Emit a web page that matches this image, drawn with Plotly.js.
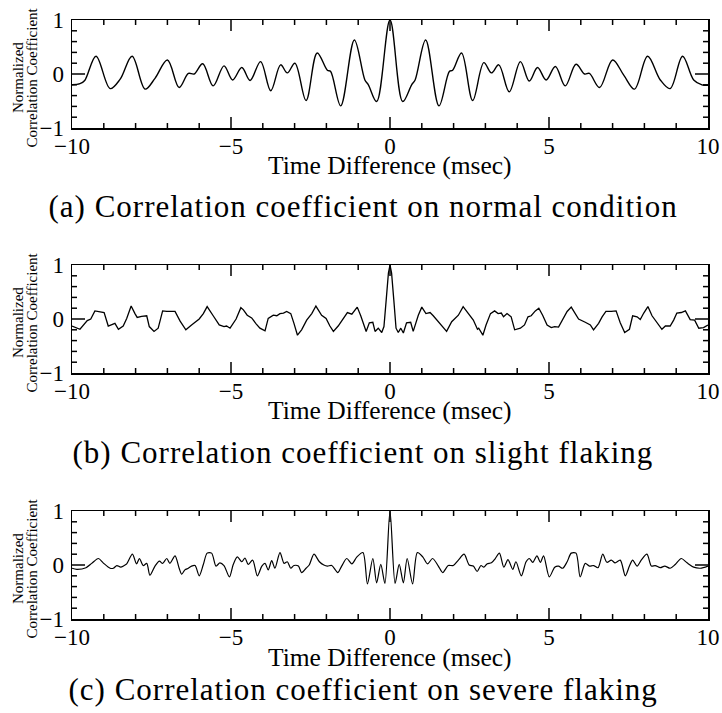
<!DOCTYPE html>
<html>
<head>
<meta charset="utf-8">
<script src="https://cdn.plot.ly/plotly-3.0.1.min.js"></script>
<style>html,body{margin:0;padding:0;background:#fff;}#chart{width:722px;height:713px;}</style>
</head>
<body>
<div id="chart"></div>
<script>
// (a) normal condition
const xNormal = [-10, -9.75, -9.6, -9.245, -8.80, -8.49, -8.11, -7.70, -7.39, -7.00, -6.63, -6.34, -6.16, -5.89, -5.56, -5.22, -4.95, -4.66, -4.40, -4.07, -3.75, -3.44, -3.23, -2.99, -2.64, -2.29, -1.97, -1.87, -1.55, -1.12, -0.79, -0.68, -0.42, 0, 0.40, 0.68, 0.79, 1.12, 1.54, 1.87, 1.97, 2.25, 2.60, 2.95, 3.19, 3.42, 3.75, 4.10, 4.38, 4.64, 4.91, 5.20, 5.51, 5.85, 6.12, 6.27, 6.59, 7.00, 7.35, 7.69, 8.10, 8.50, 8.81, 9.20, 9.55, 9.81, 10];
const yNormal = [-0.20, -0.18, -0.12, 0.33, -0.27, -0.10, 0.33, -0.28, -0.08, 0.26, -0.25, 0.01, 0.00, 0.19, -0.22, 0.15, -0.11, 0.12, -0.12, 0.23, -0.31, 0.17, 0.02, 0.20, -0.49, 0.39, 0.07, 0.05, -0.59, 0.63, -0.11, -0.20, -0.51, 1.00, -0.51, -0.20, -0.11, 0.63, -0.59, 0.05, 0.07, 0.39, -0.49, 0.21, 0.02, 0.17, -0.33, 0.23, -0.13, 0.12, -0.11, 0.14, -0.22, 0.18, 0.00, 0.01, -0.25, 0.26, -0.02, -0.28, 0.33, -0.11, -0.27, 0.33, -0.11, -0.20, -0.21];

// (b) slight flaking
const xSlight = [-10, -9.75, -9.52, -9.41, -9.28, -9.12, -8.99, -8.86, -8.75, -8.65, -8.54, -8.39, -8.28, -8.14, -8.02, -7.95, -7.81, -7.65, -7.57, -7.42, -7.29, -7.15, -7.02, -6.86, -6.76, -6.60, -6.42, -6.24, -6.00, -5.87, -5.75, -5.56, -5.37, -5.22, -5.14, -5.03, -4.84, -4.69, -4.61, -4.49, -4.35, -4.21, -4.09, -3.93, -3.83, -3.67, -3.56, -3.46, -3.35, -3.25, -3.12, -3.02, -2.91, -2.78, -2.62, -2.46, -2.33, -2.15, -2.01, -1.89, -1.78, -1.63, -1.49, -1.34, -1.20, -1.03, -0.92, -0.75, -0.65, -0.54, -0.47, -0.37, -0.26, -0.19, -0.12, -0.05, 0, 0.05, 0.12, 0.19, 0.26, 0.34, 0.42, 0.52, 0.65, 0.73, 0.89, 1.00, 1.13, 1.26, 1.36, 1.52, 1.63, 1.78, 1.94, 2.04, 2.15, 2.30, 2.46, 2.62, 2.75, 2.79, 2.92, 3.02, 3.16, 3.29, 3.40, 3.50, 3.57, 3.68, 3.81, 3.92, 4.10, 4.23, 4.34, 4.44, 4.57, 4.68, 4.80, 4.94, 5.07, 5.18, 5.30, 5.46, 5.57, 5.70, 5.93, 6.14, 6.30, 6.40, 6.56, 6.67, 6.79, 6.96, 7.11, 7.24, 7.38, 7.53, 7.63, 7.77, 7.87, 7.98, 8.11, 8.24, 8.40, 8.55, 8.66, 8.81, 8.92, 9.02, 9.16, 9.29, 9.44, 9.58, 9.71, 9.86, 10];
const ySlight = [-0.13, -0.19, -0.03, 0.00, 0.15, 0.13, 0.12, -0.13, -0.10, -0.08, -0.19, -0.13, 0.01, 0.24, 0.10, 0.03, 0.05, 0.06, -0.14, -0.23, -0.17, 0.15, 0.14, 0.14, 0.14, -0.04, -0.20, -0.11, 0.00, 0.10, 0.23, 0.06, -0.11, -0.14, -0.13, -0.17, 0.00, 0.21, 0.17, 0.07, 0.02, -0.09, -0.17, -0.22, 0.01, 0.07, 0.06, 0.10, 0.11, 0.14, 0.10, -0.08, -0.30, -0.20, -0.02, 0.10, 0.24, 0.07, 0.01, -0.13, -0.23, -0.13, -0.02, 0.12, 0.09, 0.22, 0.06, -0.23, -0.07, -0.06, -0.23, -0.17, -0.25, -0.14, 0.35, 0.85, 1.00, 0.85, 0.35, -0.17, -0.25, -0.17, -0.26, -0.07, -0.06, -0.23, 0.07, 0.22, 0.10, 0.12, 0.06, -0.05, -0.13, -0.23, -0.05, 0.00, 0.07, 0.23, 0.11, -0.02, -0.19, -0.17, -0.30, -0.11, 0.10, 0.15, 0.10, 0.11, 0.04, 0.10, 0.04, -0.20, -0.17, -0.11, 0.04, 0.06, 0.15, 0.20, 0.07, -0.11, -0.16, -0.14, -0.15, 0.04, 0.14, 0.22, 0.00, -0.06, -0.11, -0.20, -0.08, 0.04, 0.14, 0.14, 0.15, -0.07, -0.25, -0.19, 0.06, 0.04, -0.01, 0.11, 0.23, 0.06, -0.06, -0.19, -0.13, -0.13, -0.02, 0.11, 0.12, 0.15, -0.01, -0.02, -0.17, -0.16, -0.11];

// (c) severe flaking
const xSevere = [-10, -9.85, -9.56, -9.38, -9.17, -9.02, -8.80, -8.70, -8.59, -8.47, -8.36, -8.28, -8.10, -7.97, -7.88, -7.76, -7.65, -7.55, -7.39, -7.25, -7.15, -7.02, -6.92, -6.76, -6.63, -6.55, -6.45, -6.34, -6.24, -6.13, -6.00, -5.87, -5.75, -5.61, -5.47, -5.35, -5.22, -5.05, -4.93, -4.80, -4.66, -4.56, -4.46, -4.32, -4.17, -4.03, -3.93, -3.83, -3.72, -3.62, -3.46, -3.33, -3.23, -3.12, -3.02, -2.88, -2.78, -2.64, -2.54, -2.39, -2.22, -2.08, -1.97, -1.83, -1.64, -1.52, -1.36, -1.20, -1.04, -0.85, -0.71, -0.54, -0.42, -0.29, -0.16, 0, 0.16, 0.29, 0.42, 0.54, 0.71, 0.86, 1.03, 1.18, 1.34, 1.52, 1.66, 1.83, 1.99, 2.15, 2.33, 2.49, 2.62, 2.74, 2.86, 2.95, 3.05, 3.19, 3.31, 3.44, 3.58, 3.71, 3.86, 3.96, 4.13, 4.28, 4.38, 4.49, 4.62, 4.73, 4.83, 5.01, 5.18, 5.30, 5.43, 5.57, 5.70, 5.85, 5.98, 6.14, 6.27, 6.40, 6.54, 6.69, 6.82, 6.96, 7.08, 7.24, 7.40, 7.53, 7.63, 7.77, 7.90, 8.08, 8.22, 8.34, 8.50, 8.64, 8.81, 8.97, 9.16, 9.34, 9.55, 9.76, 10];
const ySevere = [-0.06, -0.08, -0.05, 0.03, 0.12, 0.04, -0.06, -0.06, -0.01, -0.04, -0.01, 0.02, 0.20, 0.02, 0.12, -0.01, 0.03, -0.19, -0.02, 0.07, 0.03, 0.12, 0.03, 0.17, -0.06, -0.17, -0.09, -0.06, -0.02, -0.01, -0.20, 0.01, 0.22, 0.22, -0.02, 0.04, -0.01, -0.22, 0.01, 0.15, 0.06, 0.13, 0.01, 0.09, -0.20, -0.02, 0.03, -0.09, 0.08, -0.06, 0.23, 0.03, 0.06, -0.06, -0.01, -0.02, -0.14, -0.06, 0.00, 0.20, 0.06, 0.00, -0.02, -0.01, -0.14, -0.02, 0.12, 0.02, 0.15, 0.23, -0.35, 0.12, -0.33, 0.01, -0.34, 1.00, -0.34, 0.01, -0.33, 0.12, -0.35, 0.23, 0.15, 0.02, 0.12, -0.02, -0.14, -0.01, -0.01, 0.09, 0.20, 0.00, -0.02, -0.12, -0.01, -0.04, 0.02, 0.04, 0.12, 0.22, -0.04, 0.10, -0.08, 0.06, -0.20, 0.06, 0.12, 0.05, 0.17, 0.05, 0.17, -0.22, -0.04, -0.02, -0.06, 0.06, 0.22, 0.22, -0.22, 0.03, -0.02, -0.01, -0.05, 0.20, 0.05, 0.09, 0.04, 0.09, -0.20, -0.02, 0.09, -0.02, 0.09, 0.20, -0.02, -0.01, -0.05, -0.02, -0.06, 0.01, 0.12, 0.04, -0.04, -0.06, -0.02];

// tick positions
const xMajorTicks = [-5, 0, 5];
const xMinorTicks = [-9, -8, -7, -6, -4, -3, -2, -1, 1, 2, 3, 4, 6, 7, 8, 9];
const yMajorTicks = [0];
const yMinorTicks = [-0.8, -0.6, -0.4, -0.2, 0.2, 0.4, 0.6, 0.8];

const xTitle = 'Time Difference (msec)';
const yTitleLine1 = 'Normalized';
const yTitleLine2 = 'Correlation Coefficient';
const captions = [
  '(a) Correlation coefficient on normal condition',
  '(b) Correlation coefficient on slight flaking',
  '(c) Correlation coefficient on severe flaking'
];

const W = 722, H = 713;
const px = v => v / W;
const py = v => 1 - v / H;
const left = 72, right = 708;
const panels = [
  {top: 20, bottom: 128, titleY: 166, capY: 207},
  {top: 265, bottom: 373, titleY: 410, capY: 452},
  {top: 511, bottom: 619, titleY: 657, capY: 689}
];

const serif = 'Liberation Serif, Times New Roman, serif';
const traces = [
  {x: xNormal, y: yNormal, xaxis: 'x', yaxis: 'y', mode: 'lines', hoverinfo: 'skip', showlegend: false,
   line: {color: '#000', width: 1.4, shape: 'spline', smoothing: 1}},
  {x: xSlight, y: ySlight, xaxis: 'x2', yaxis: 'y2', mode: 'lines', hoverinfo: 'skip', showlegend: false,
   line: {color: '#000', width: 1.3}},
  {x: xSevere, y: ySevere, xaxis: 'x3', yaxis: 'y3', mode: 'lines', hoverinfo: 'skip', showlegend: false,
   line: {color: '#000', width: 1.2, shape: 'spline', smoothing: 0.8}}
];

function xMain(i) {
  return {
    domain: [px(left), px(right)], anchor: 'y' + (i ? i + 1 : ''),
    range: [-10, 10], tickmode: 'linear', tick0: 0, dtick: 5,
    showgrid: false, zeroline: false, fixedrange: true,
    showline: true, linecolor: '#000', linewidth: 1.5, mirror: true,
    ticks: '', ticklabelstandoff: -3,
    tickfont: {family: serif, size: 23, color: '#000'}
  };
}
function yMain(i) {
  const p = panels[i];
  return {
    domain: [py(p.bottom), py(p.top)], anchor: 'x' + (i ? i + 1 : ''),
    range: [-1, 1], tickmode: 'linear', tick0: 0, dtick: 1,
    showgrid: false, zeroline: false, fixedrange: true,
    showline: true, linecolor: '#000', linewidth: 1.5, mirror: true,
    ticks: '', ticklabelstandoff: 2,
    tickfont: {family: serif, size: 23, color: '#000'}
  };
}

// tick marks drawn inside the frame on all four sides
const shapes = [];
function xTick(i, v, len, w) {
  const xr = 'x' + (i ? i + 1 : ''), yr = 'y' + (i ? i + 1 : '') + ' domain';
  [[0, len], [1, -len]].forEach(([anc, l]) => shapes.push({type: 'line', xref: xr, yref: yr,
    ysizemode: 'pixel', yanchor: anc, x0: v, x1: v, y0: 0, y1: l, line: {color: '#000', width: w}}));
}
function yTick(i, v, len, w) {
  const yr = 'y' + (i ? i + 1 : ''), xr = 'x' + (i ? i + 1 : '') + ' domain';
  [[0, len], [1, -len]].forEach(([anc, l]) => shapes.push({type: 'line', xref: xr, yref: yr,
    xsizemode: 'pixel', xanchor: anc, y0: v, y1: v, x0: 0, x1: l, line: {color: '#000', width: w}}));
}
for (let i = 0; i < 3; i++) {
  xMajorTicks.forEach(v => xTick(i, v, 11, 1.5));
  xMinorTicks.forEach(v => xTick(i, v, 5, 1.5));
  yMajorTicks.forEach(v => yTick(i, v, 13, 1.5));
  yMinorTicks.forEach(v => yTick(i, v, 5, 1.5));
}

const annotations = [];
panels.forEach((p, i) => {
  const mid = (p.top + p.bottom) / 2 + 4;
  annotations.push({xref: 'paper', yref: 'paper', x: px((left + right) / 2), y: py(p.titleY), text: xTitle,
    showarrow: false, xanchor: 'center', yanchor: 'middle', font: {family: serif, size: 25.5, color: '#000'}});
  annotations.push({xref: 'paper', yref: 'paper', x: px(18), y: py(mid), text: yTitleLine1,
    showarrow: false, xanchor: 'center', yanchor: 'middle', textangle: -90, font: {family: serif, size: 15, color: '#000'}});
  annotations.push({xref: 'paper', yref: 'paper', x: px(31.5), y: py(mid), text: yTitleLine2,
    showarrow: false, xanchor: 'center', yanchor: 'middle', textangle: -90, font: {family: serif, size: 15, color: '#000'}});
  annotations.push({xref: 'paper', yref: 'paper', x: px(363), y: py(p.capY), text: captions[i],
    showarrow: false, xanchor: 'center', yanchor: 'middle', font: {family: serif, size: 31, color: '#000'}});
});

const layout = {
  width: W, height: H, autosize: false,
  margin: {l: 0, r: 0, t: 0, b: 0},
  paper_bgcolor: '#fff', plot_bgcolor: '#fff',
  showlegend: false,
  xaxis: xMain(0), xaxis2: xMain(1), xaxis3: xMain(2),
  yaxis: yMain(0), yaxis2: yMain(1), yaxis3: yMain(2),
  shapes: shapes,
  annotations: annotations
};

Plotly.newPlot('chart', traces, layout, {staticPlot: true, displayModeBar: false}).then(gd => {
  // widen caption lettering to mimic the wider original typeface
  gd.querySelectorAll('.annotation-text').forEach(t => {
    if (captions.indexOf(t.textContent) >= 0) t.style.letterSpacing = '1px';
  });
});
</script>
</body>
</html>
